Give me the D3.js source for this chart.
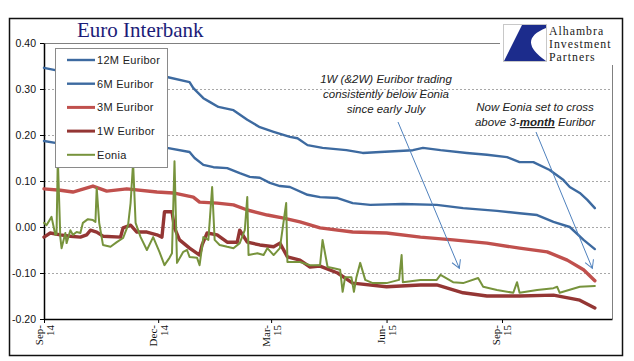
<!DOCTYPE html>
<html>
<head>
<meta charset="utf-8">
<script src="https://cdn.jsdelivr.net/npm/d3@7/dist/d3.min.js"></script>
<style>
  body { margin: 0; background: #fff; }
  svg { display: block; }
  .ytick { font: 10.5px "Liberation Sans", Arial, sans-serif; fill: #111; }
  .xtick { font: 11px "Liberation Serif", "Times New Roman", serif; fill: #111; }
  .legend text { font: 11px "Liberation Sans", Arial, sans-serif; fill: #222; letter-spacing: 0.3px; }
  .note { font: italic 11.5px "Liberation Sans", Arial, sans-serif; fill: #222; }
</style>
</head>
<body>
<div class="viz"></div>
<script>
// values
const euribor12m = [
  ["2014-09-01", 0.346], ["2014-09-10", 0.341], ["2014-09-30", 0.339], ["2014-10-24", 0.335],
  ["2014-11-17", 0.330], ["2014-12-08", 0.326], ["2014-12-26", 0.315], ["2014-12-29", 0.302],
  ["2015-01-06", 0.280], ["2015-01-11", 0.272], ["2015-01-18", 0.261], ["2015-01-30", 0.254],
  ["2015-02-10", 0.233], ["2015-02-20", 0.217], ["2015-03-03", 0.207], ["2015-03-16", 0.196],
  ["2015-03-22", 0.193], ["2015-03-30", 0.178], ["2015-04-11", 0.172], ["2015-04-30", 0.167],
  ["2015-05-13", 0.161], ["2015-05-27", 0.163], ["2015-06-22", 0.167], ["2015-06-30", 0.172],
  ["2015-07-14", 0.167], ["2015-08-04", 0.161], ["2015-08-20", 0.157], ["2015-09-05", 0.152],
  ["2015-09-15", 0.141], ["2015-09-26", 0.141], ["2015-10-09", 0.124], ["2015-10-20", 0.102],
  ["2015-10-25", 0.087], ["2015-11-02", 0.074], ["2015-11-08", 0.059], ["2015-11-14", 0.041]
];
const euribor6m = [
  ["2014-09-01", 0.187], ["2014-09-10", 0.183], ["2014-10-16", 0.178], ["2014-11-17", 0.176],
  ["2014-12-08", 0.172], ["2014-12-26", 0.163], ["2014-12-30", 0.150], ["2015-01-06", 0.135],
  ["2015-01-14", 0.130], ["2015-01-25", 0.128], ["2015-02-04", 0.117], ["2015-02-12", 0.109],
  ["2015-02-20", 0.107], ["2015-02-28", 0.096], ["2015-03-08", 0.089], ["2015-03-16", 0.087],
  ["2015-03-30", 0.070], ["2015-04-09", 0.065], ["2015-04-23", 0.063], ["2015-05-05", 0.052],
  ["2015-05-19", 0.048], ["2015-06-14", 0.050], ["2015-07-11", 0.048], ["2015-08-01", 0.041],
  ["2015-08-28", 0.035], ["2015-09-15", 0.030], ["2015-09-29", 0.026], ["2015-10-12", 0.011],
  ["2015-10-25", 0.000], ["2015-11-05", -0.028], ["2015-11-14", -0.048]
];
const euribor3m = [
  ["2014-09-01", 0.083], ["2014-09-14", 0.080], ["2014-09-24", 0.076], ["2014-10-10", 0.089],
  ["2014-10-21", 0.078], ["2014-11-06", 0.083], ["2014-11-30", 0.076], ["2014-12-13", 0.074],
  ["2014-12-29", 0.065], ["2015-01-03", 0.054], ["2015-01-17", 0.052], ["2015-01-30", 0.048],
  ["2015-02-10", 0.037], ["2015-02-26", 0.026], ["2015-03-10", 0.020], ["2015-03-24", 0.011],
  ["2015-04-09", -0.002], ["2015-05-05", -0.011], ["2015-06-01", -0.013], ["2015-06-28", -0.022],
  ["2015-07-24", -0.028], ["2015-08-20", -0.035], ["2015-09-15", -0.046], ["2015-10-07", -0.054],
  ["2015-10-23", -0.072], ["2015-11-05", -0.093], ["2015-11-14", -0.117]
];
const euribor1w = [
  ["2014-09-01", -0.022], ["2014-09-06", -0.013], ["2014-09-14", -0.017], ["2014-09-22", -0.020],
  ["2014-09-30", -0.022], ["2014-10-05", -0.017], ["2014-10-08", -0.007], ["2014-10-13", -0.011],
  ["2014-10-18", -0.020], ["2014-11-01", -0.022], ["2014-11-03", -0.002], ["2014-11-09", 0.004],
  ["2014-11-14", -0.011], ["2014-11-22", -0.011], ["2014-11-30", -0.017], ["2014-12-04", -0.022],
  ["2014-12-06", 0.033], ["2014-12-12", 0.033], ["2014-12-14", -0.002], ["2014-12-18", -0.028],
  ["2014-12-26", -0.046], ["2015-01-03", -0.061], ["2015-01-05", -0.039], ["2015-01-09", -0.013],
  ["2015-01-17", -0.017], ["2015-01-25", -0.033], ["2015-02-02", -0.033], ["2015-02-04", -0.007],
  ["2015-02-10", -0.033], ["2015-02-20", -0.039], ["2015-03-03", -0.043], ["2015-03-08", -0.035],
  ["2015-03-14", -0.065], ["2015-03-24", -0.072], ["2015-04-01", -0.087], ["2015-04-09", -0.085],
  ["2015-04-23", -0.100], ["2015-05-05", -0.122], ["2015-06-01", -0.130], ["2015-06-28", -0.126],
  ["2015-07-11", -0.126], ["2015-08-01", -0.143], ["2015-08-20", -0.150], ["2015-09-15", -0.150],
  ["2015-10-12", -0.148], ["2015-11-02", -0.159], ["2015-11-14", -0.176]
];
const eonia = [
  ["2014-09-01", 0.009], ["2014-09-03", 0.004], ["2014-09-07", 0.022], ["2014-09-10", -0.017],
  ["2014-09-11", -0.015], ["2014-09-12", 0.150], ["2014-09-14", -0.022], ["2014-09-15", -0.046],
  ["2014-09-18", -0.013], ["2014-09-19", -0.035], ["2014-09-22", -0.007], ["2014-09-24", -0.017],
  ["2014-09-27", -0.011], ["2014-09-30", -0.013], ["2014-10-02", 0.009], ["2014-10-06", 0.017],
  ["2014-10-10", 0.015], ["2014-10-12", 0.011], ["2014-10-13", 0.085], ["2014-10-15", 0.009],
  ["2014-10-18", -0.039], ["2014-10-24", -0.043], ["2014-10-29", -0.033], ["2014-11-03", -0.024],
  ["2014-11-07", 0.004], ["2014-11-09", 0.052], ["2014-11-11", 0.140], ["2014-11-13", 0.009],
  ["2014-11-17", -0.022], ["2014-11-22", -0.050], ["2014-11-27", -0.022], ["2014-12-02", -0.054],
  ["2014-12-06", -0.083], ["2014-12-10", -0.067], ["2014-12-12", -0.057], ["2014-12-14", 0.143],
  ["2014-12-16", -0.078], ["2014-12-21", -0.054], ["2014-12-24", -0.050], ["2014-12-26", -0.065],
  ["2015-01-01", -0.067], ["2015-01-03", -0.083], ["2015-01-06", -0.022], ["2015-01-10", -0.028],
  ["2015-01-13", 0.087], ["2015-01-15", -0.028], ["2015-01-19", -0.039], ["2015-01-25", -0.043],
  ["2015-01-30", -0.046], ["2015-02-04", -0.035], ["2015-02-08", -0.007], ["2015-02-10", 0.065],
  ["2015-02-11", -0.061], ["2015-02-18", -0.057], ["2015-02-23", -0.061], ["2015-02-26", -0.046],
  ["2015-03-03", -0.061], ["2015-03-08", -0.046], ["2015-03-13", 0.052], ["2015-03-14", -0.076],
  ["2015-03-24", -0.076], ["2015-04-01", -0.083], ["2015-04-09", -0.083], ["2015-04-11", -0.028],
  ["2015-04-15", -0.087], ["2015-04-19", -0.089], ["2015-04-25", -0.093], ["2015-04-27", -0.141],
  ["2015-04-29", -0.109], ["2015-05-04", -0.109], ["2015-05-06", -0.141], ["2015-05-08", -0.109],
  ["2015-05-11", -0.078], ["2015-05-15", -0.115], ["2015-05-21", -0.122], ["2015-06-01", -0.122],
  ["2015-06-11", -0.115], ["2015-06-13", -0.061], ["2015-06-14", -0.120], ["2015-06-28", -0.115],
  ["2015-07-11", -0.115], ["2015-07-14", -0.104], ["2015-07-24", -0.120], ["2015-08-01", -0.122],
  ["2015-08-13", -0.111], ["2015-08-17", -0.130], ["2015-08-28", -0.137], ["2015-09-10", -0.143],
  ["2015-09-13", -0.120], ["2015-09-15", -0.143], ["2015-09-29", -0.137], ["2015-10-12", -0.133],
  ["2015-10-15", -0.130], ["2015-10-17", -0.143], ["2015-11-02", -0.130], ["2015-11-14", -0.128]
];

const seriesNames = ["12M Euribor", "6M Euribor", "3M Euribor", "1W Euribor", "Eonia"];
const seriesColors = ["#3d6aa0", "#3d6aa0", "#c0504d", "#943634", "#77933c"];
const seriesWidths = [2.4, 2.4, 3.4, 3.4, 2];
const seriesData = [euribor12m, euribor6m, euribor3m, euribor1w, eonia];

const yTicks = [-0.2, -0.1, 0, 0.1, 0.2, 0.3, 0.4];
const yGrid = [-0.1, 0, 0.1, 0.2, 0.3];
const xTicks = ["2014-09-01", "2014-12-01", "2015-03-01", "2015-06-01", "2015-09-01"];

const width = 634, height = 361;
const plot = {left: 44, top: 43, right: 612, bottom: 319};

const parse = d3.utcParse("%Y-%m-%d");

const svg = d3.select('.viz').append('svg')
  .attr('width', width)
  .attr('height', height);

// x runs from Sep 1 2014 out to the plot's right edge (late Nov 2015)
const x = d3.scaleUtc()
  .domain([parse("2014-09-01"), d3.utcHour.offset(parse("2015-11-27"), 16)])
  .range([plot.left, plot.right]);

const y = d3.scaleLinear()
  .domain([-0.2, 0.4])
  .range([plot.bottom, plot.top]);

const fmtY = v => d3.format(".2f")(v).replace("\u2212", "-");

// outer frame
svg.append("rect")
  .attr("x", 9.5).attr("y", 18.5)
  .attr("width", 613).attr("height", 337)
  .attr("fill", "none").attr("stroke", "#111").attr("stroke-width", 1.5);

// gridlines
svg.append("g")
  .selectAll("line")
  .data(yGrid)
  .join("line")
    .attr("x1", plot.left).attr("x2", plot.right)
    .attr("y1", d => Math.round(y(d)) + 0.5).attr("y2", d => Math.round(y(d)) + 0.5)
    .attr("stroke", "#a8a8a8")
    .attr("stroke-dasharray", "2,2");

// plot area border (top + right), gray
svg.append("line")
  .attr("x1", plot.left).attr("x2", 500)
  .attr("y1", plot.top + 0.5).attr("y2", plot.top + 0.5)
  .attr("stroke", "#808080");
svg.append("line")
  .attr("x1", plot.right + 0.5).attr("x2", plot.right + 0.5)
  .attr("y1", 65).attr("y2", plot.bottom)
  .attr("stroke", "#808080");

// y axis
const yAxis = svg.append("g")
  .attr("transform", `translate(${plot.left},0)`)
  .call(d3.axisLeft(y).tickValues(yTicks).tickSize(4).tickFormat(fmtY).tickSizeOuter(0));
yAxis.select(".domain").attr("stroke", "#000").attr("stroke-width", 1.5);
yAxis.selectAll(".tick line").attr("stroke", "#000");
yAxis.selectAll(".tick text").attr("class", "ytick").attr("x", -8).attr("font-family", null).attr("font-size", null);

// x axis
const xAxis = svg.append("g")
  .attr("transform", `translate(0,${plot.bottom})`)
  .call(d3.axisBottom(x).tickValues(xTicks.map(parse)).tickSize(4).tickFormat("").tickSizeOuter(0));
xAxis.select(".domain").attr("stroke", "#000").attr("stroke-width", 1.5);
xAxis.selectAll(".tick line").attr("stroke", "#000");

const fmtMon = d3.utcFormat("%b-"), fmtYr = d3.utcFormat("%y");
const xl = svg.append("g").selectAll("g")
  .data(xTicks.map(parse))
  .join("g")
    .attr("transform", d => `translate(${x(d)},${plot.bottom + 6}) rotate(-90)`);
xl.append("text").attr("class", "xtick").attr("text-anchor", "end").attr("y", -1.5).text(d => fmtMon(d));
xl.append("text").attr("class", "xtick").attr("text-anchor", "end").attr("y", 9.5).text(d => fmtYr(d));

// series
const line = d3.line()
  .x(d => x(parse(d[0])))
  .y(d => y(d[1]));

svg.append("g")
  .attr("fill", "none")
  .attr("stroke-linejoin", "round")
  .attr("stroke-linecap", "round")
  .selectAll("path")
  .data(seriesData)
  .join("path")
    .attr("stroke", (d, i) => seriesColors[i])
    .attr("stroke-width", (d, i) => seriesWidths[i])
    .attr("d", line);

// legend
const legend = svg.append("g").attr("class", "legend");
legend.append("rect")
  .attr("x", 55.5).attr("y", 48.5)
  .attr("width", 112).attr("height", 119)
  .attr("fill", "#fff").attr("stroke", "#8a8a8a");
const li = legend.selectAll("g.item")
  .data(seriesNames)
  .join("g")
    .attr("class", "item")
    .attr("transform", (d, i) => `translate(67,${60 + i * 23.7})`);
li.append("line")
  .attr("x1", 0).attr("x2", 28)
  .attr("stroke", (d, i) => seriesColors[i])
  .attr("stroke-width", (d, i) => Math.min(seriesWidths[i], 3));
li.append("text")
  .attr("x", 30).attr("dy", "0.35em")
  .text(d => d);

// title
svg.append("text")
  .attr("x", 77).attr("y", 37)
  .attr("fill", "#1c1c78")
  .style("font", '21px "Liberation Serif", "Times New Roman", serif')
  .text("Euro Interbank");

// logo
const logo = svg.append("g");
logo.append("rect")
  .attr("x", 500).attr("y", 20).attr("width", 121).attr("height", 44)
  .attr("fill", "#fff");
logo.append("rect")
  .attr("x", 503.5).attr("y", 24.5).attr("width", 43).attr("height", 37)
  .attr("fill", "#fff").attr("stroke", "#c8c8c8");
logo.append("path")
  .attr("d", "M522,25 L546,25 L546,28 Q516,40 546,61 L504,61 Z")
  .attr("fill", "#1c2c8c");
logo.selectAll("text.lg")
  .data(["Alhambra", "Investment", "Partners"])
  .join("text")
    .attr("x", 549)
    .attr("y", (d, i) => 34.5 + i * 13.4)
    .attr("fill", "#1a1a1a")
    .style("font", '11.8px "Liberation Serif", "Times New Roman", serif')
    .style("letter-spacing", "1px")
    .text(d => d);

// annotations
const defs = svg.append("defs");
defs.append("marker")
  .attr("id", "arrow")
  .attr("viewBox", "-10 -6 12 12")
  .attr("markerWidth", 12).attr("markerHeight", 12)
  .attr("markerUnits", "userSpaceOnUse")
  .attr("orient", "auto")
  .append("path")
    .attr("d", "M-8,-4.5 L0,0 L-8,4.5")
    .attr("fill", "none").attr("stroke", "#4f81bd").attr("stroke-width", 1);

const note1 = svg.append("text").attr("class", "note").attr("text-anchor", "middle");
["1W (&2W) Euribor trading", "consistently below Eonia", "since early July"].forEach((t, i) =>
  note1.append("tspan").attr("x", 386).attr("y", 83 + i * 15).text(t));

const note2 = svg.append("text").attr("class", "note").attr("text-anchor", "middle");
note2.append("tspan").attr("x", 535).attr("y", 111).text("Now Eonia set to cross");
const l2 = note2.append("tspan").attr("x", 535).attr("y", 126);
l2.append("tspan").text("above 3-");
l2.append("tspan").attr("font-weight", "bold").attr("text-decoration", "underline").text("month");
l2.append("tspan").text(" Euribor");

// arrows point at Eonia around late July and mid-November
svg.append("line")
  .attr("x1", 398).attr("y1", 122)
  .attr("x2", x(parse("2015-07-29"))).attr("y2", y(-0.09))
  .attr("stroke", "#4f81bd").attr("stroke-width", 1)
  .attr("marker-end", "url(#arrow)");
svg.append("line")
  .attr("x1", 536).attr("y1", 132)
  .attr("x2", x(parse("2015-11-12"))).attr("y2", y(-0.09))
  .attr("stroke", "#4f81bd").attr("stroke-width", 1)
  .attr("marker-end", "url(#arrow)");
</script>
</body>
</html>
